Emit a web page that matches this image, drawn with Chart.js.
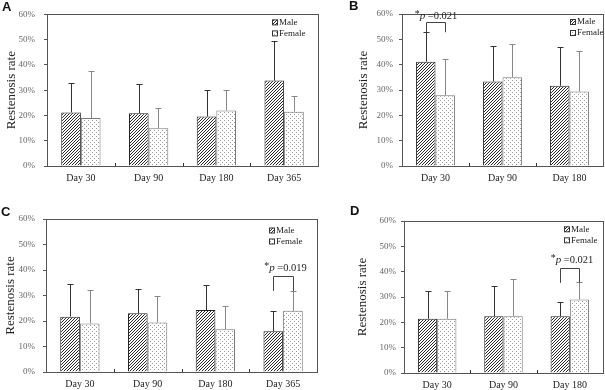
<!DOCTYPE html>
<html>
<head>
<meta charset="utf-8">
<script src="https://cdn.jsdelivr.net/npm/chart.js@4/dist/chart.umd.min.js"></script>
<style>
  body { margin: 0; background: #fff; }
  #wrap { position: relative; width: 605px; height: 390px; overflow: hidden; }
  #wrap canvas { position: absolute; }
  .tag { position: absolute; font: bold 13px "Liberation Sans", Arial, sans-serif; color: #111; }
</style>
</head>
<body>
<div id="wrap">
  <canvas id="chartA" width="320" height="195" style="left:0;top:0"></canvas>
  <canvas id="chartB" width="285" height="195" style="left:320px;top:0"></canvas>
  <canvas id="chartC" width="320" height="195" style="left:0;top:195px"></canvas>
  <canvas id="chartD" width="285" height="195" style="left:320px;top:195px"></canvas>
  <div class="tag" style="left:2px;top:-1px">A</div>
  <div class="tag" style="left:349px;top:-2px">B</div>
  <div class="tag" style="left:1px;top:204px">C</div>
  <div class="tag" style="left:350px;top:203px">D</div>
</div>
<script>
// values in %
const daysA = ['Day 30', 'Day 90', 'Day 180', 'Day 365'];
const maleA = [21.2, 20.9, 19.6, 33.8];
const maleErrA = [11.5, 11.6, 10.3, 15.7];
const femaleA = [19.0, 14.9, 22.0, 21.5];
const femaleErrA = [18.5, 8.2, 8.1, 6.1];

const daysB = ['Day 30', 'Day 90', 'Day 180'];
const maleB = [41.2, 33.4, 31.7];
const maleErrB = [11.5, 14.1, 15.1];
const femaleB = [27.9, 35.0, 29.4];
const femaleErrB = [14.4, 13.2, 15.8];

const daysC = ['Day 30', 'Day 90', 'Day 180', 'Day 365'];
const maleC = [21.7, 23.0, 24.3, 16.0];
const maleErrC = [12.7, 9.6, 9.7, 8.1];
const femaleC = [19.0, 19.4, 16.8, 24.0];
const femaleErrC = [13.0, 10.6, 8.9, 7.8];

const daysD = ['Day 30', 'Day 90', 'Day 180'];
const maleD = [21.4, 22.4, 22.4];
const maleErrD = [11.1, 11.9, 5.6];
const femaleD = [21.4, 22.4, 29.0];
const femaleErrD = [10.9, 14.6, 6.9];

const yTicks = [0, 10, 20, 30, 40, 50, 60];
const serif = '"Liberation Serif", "Times New Roman", serif';

function makePattern(kind) {
  const c = document.createElement('canvas');
  const n = kind === 'hatch' ? 3 : 4;
  c.width = n; c.height = n;
  const g = c.getContext('2d');
  g.fillStyle = '#fff';
  g.fillRect(0, 0, n, n);
  if (kind === 'hatch') {
    g.fillStyle = '#2a2a2a';
    for (let i = 0; i < n; i++) g.fillRect(i, n - 1 - i, 1, 1);
  } else {
    g.fillStyle = '#9a9a9a';
    g.fillRect(0, 0, 1, 1);
    g.fillRect(2, 2, 1, 1);
  }
  return g.createPattern(c, 'repeat');
}
const hatch = makePattern('hatch');
const dots = makePattern('dots');

// error bars (upward only), inner x tick marks, box, legend, significance bracket
const extras = {
  id: 'extras',
  afterDatasetsDraw(chart) {
    const { ctx, chartArea: a, scales: { x, y } } = chart;
    const o = chart.options.plugins.extras;
    ctx.save();
    // error bars
    chart.data.datasets.forEach((ds, di) => {
      const meta = chart.getDatasetMeta(di);
      ctx.strokeStyle = ds.errColor;
      ctx.lineWidth = 1;
      meta.data.forEach((bar, i) => {
        const cx = Math.round(bar.x) + 0.5;
        const y0 = y.getPixelForValue(ds.data[i]);
        const y1 = Math.round(y.getPixelForValue(ds.data[i] + ds.err[i])) + 0.5;
        ctx.beginPath();
        ctx.moveTo(cx, y0);
        ctx.lineTo(cx, y1);
        ctx.moveTo(cx - 3, y1);
        ctx.lineTo(cx + 3, y1);
        ctx.stroke();
      });
    });
    // box
    ctx.strokeStyle = '#555';
    ctx.strokeRect(Math.round(a.left) + 0.5, Math.round(a.top) + 0.5, Math.round(a.right - a.left), Math.round(a.bottom - a.top));
    // inner ticks between categories
    ctx.strokeStyle = '#333';
    for (let i = 1; i < x.ticks.length; i++) {
      const px = Math.round((x.getPixelForTick(i - 1) + x.getPixelForTick(i)) / 2) + 0.5;
      ctx.beginPath();
      ctx.moveTo(px, a.bottom);
      ctx.lineTo(px, a.bottom - 3);
      ctx.stroke();
    }
    // legend
    ctx.font = '9px ' + serif;
    ctx.textBaseline = 'middle';
    ctx.textAlign = 'left';
    chart.data.datasets.forEach((ds, di) => {
      const lx = a.right - o.legendRight;
      const ly = a.top + o.legendTop + di * 11;
      ctx.fillStyle = ds.backgroundColor;
      ctx.fillRect(lx, ly - 2.5, 5, 5);
      ctx.strokeStyle = '#333';
      ctx.strokeRect(lx + 0.5, ly - 2.5, 5, 5);
      ctx.fillStyle = '#222';
      ctx.fillText(ds.label, lx + 7, ly);
    });
    // significance bracket
    if (o.sig) {
      const s = o.sig;
      const xm = Math.round(chart.getDatasetMeta(0).data[s.index].x) + 0.5;
      const xf = Math.round(chart.getDatasetMeta(1).data[s.index].x) + 0.5;
      const yt = Math.round(y.getPixelForValue(s.top)) + 0.5;
      const yb = y.getPixelForValue(s.leg);
      ctx.strokeStyle = '#444';
      ctx.beginPath();
      ctx.moveTo(xm, yb); ctx.lineTo(xm, yt); ctx.lineTo(xf, yt); ctx.lineTo(xf, yb);
      ctx.stroke();
      const ty = y.getPixelForValue(s.textAt);
      const cx = (xm + xf) / 2 + s.shift;
      ctx.fillStyle = '#222';
      ctx.font = '10px ' + serif;
      const w1 = ctx.measureText('*').width;
      ctx.font = 'italic 11px ' + serif;
      const w2 = ctx.measureText('p').width;
      ctx.font = '10.5px ' + serif;
      const w3 = ctx.measureText(' =' + s.text).width;
      let tx = cx - (w1 + w2 + w3) / 2;
      ctx.font = '10px ' + serif;
      ctx.fillText('*', tx, ty - 2);
      tx += w1;
      ctx.font = 'italic 11px ' + serif;
      ctx.fillText('p', tx, ty);
      tx += w2;
      ctx.font = '10.5px ' + serif;
      ctx.fillText(' =' + s.text, tx, ty);
    }
    ctx.restore();
  }
};

function panel(id, days, male, maleErr, female, femaleErr, g) {
  const ch = document.getElementById(id);
  return new Chart(ch, {
    type: 'bar',
    data: {
      labels: days,
      datasets: [
        { label: 'Male', data: male, err: maleErr, backgroundColor: hatch, borderColor: '#222', borderWidth: 1, errColor: '#333' },
        { label: 'Female', data: female, err: femaleErr, backgroundColor: dots, borderColor: '#777', borderWidth: 1, errColor: '#888' },
      ],
    },
    options: {
      responsive: false,
      animation: false,
      devicePixelRatio: 1,
      layout: { padding: { left: 0, top: g.top, right: ch.width - g.right, bottom: 0 } },
      datasets: { bar: { barPercentage: 1, categoryPercentage: 0.58 } },
      plugins: {
        legend: { display: false },
        tooltip: { enabled: false },
        extras: { legendRight: g.legendRight, legendTop: g.legendTop, sig: g.sig },
      },
      scales: {
        x: {
          grid: { display: false, drawTicks: false, tickLength: 0 },
          border: { display: true, color: '#333' },
          ticks: { color: '#222', padding: 6, font: { family: serif, size: 10 } },
          afterFit: (s) => { s.height = ch.height - g.bottom; },
        },
        y: {
          min: 0,
          max: 60,
          afterBuildTicks: (s) => { s.ticks = yTicks.map((v) => ({ value: v })); },
          grid: { drawOnChartArea: false, drawTicks: true, tickLength: 3, color: '#555' },
          border: { display: true, color: '#333' },
          ticks: { color: '#666', padding: g.tickPad, font: { family: serif, size: 9 }, callback: (v) => v + '%' },
          title: { display: true, text: 'Restenosis rate', color: '#222', font: { family: serif, size: 13 }, padding: { top: g.titleX - 7.8, bottom: 0 } },
          afterFit: (s) => { s.width = g.left; },
        },
      },
    },
    plugins: [extras],
  });
}

panel('chartA', daysA, maleA, maleErrA, femaleA, femaleErrA,
  { left: 47, right: 318, top: 13, bottom: 166, tickPad: 9, titleX: 12, legendRight: 46, legendTop: 8 });
panel('chartB', daysB, maleB, maleErrB, femaleB, femaleErrB,
  { left: 82, right: 283, top: 14, bottom: 166, tickPad: 6, titleX: 43.5, legendRight: 33, legendTop: 8,
    sig: { index: 0, top: 56.8, leg: 52.8, textAt: 59.2, text: '0.021', shift: 0 } });
panel('chartC', daysC, maleC, maleErrC, femaleC, femaleErrC,
  { left: 46, right: 317, top: 24, bottom: 177, tickPad: 8, titleX: 11, legendRight: 48, legendTop: 11.5,
    sig: { index: 3, top: 37.6, leg: 31.8, textAt: 40.6, text: '0.019', shift: 2 } });
panel('chartD', daysD, maleD, maleErrD, femaleD, femaleErrD,
  { left: 84, right: 283, top: 26, bottom: 178, tickPad: 5, titleX: 43, legendRight: 39, legendTop: 8.3,
    sig: { index: 2, top: 41.5, leg: 35.6, textAt: 44.6, text: '0.021', shift: 2 } });
</script>
</body>
</html>
